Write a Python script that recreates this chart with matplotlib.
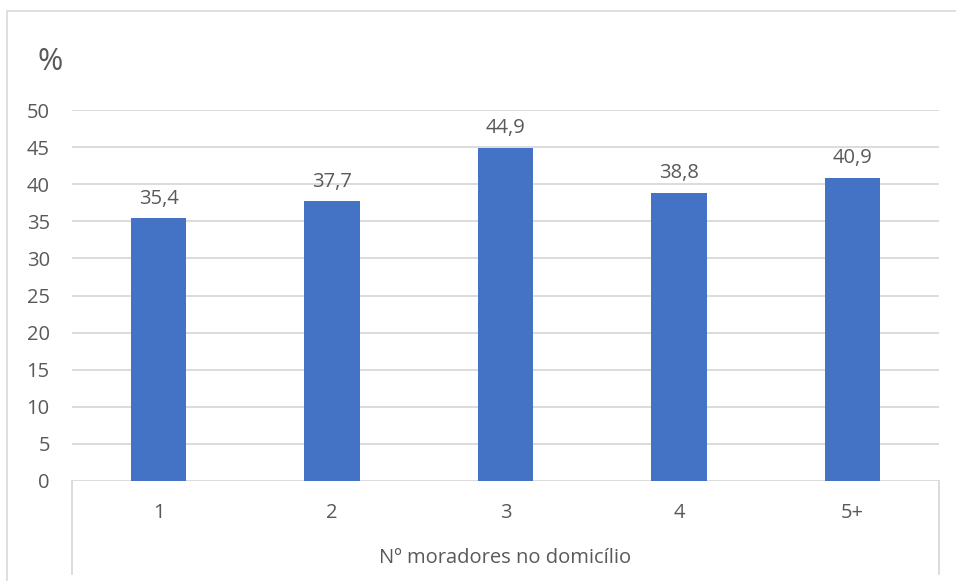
import matplotlib
matplotlib.use("Agg")
import matplotlib.pyplot as plt
from matplotlib.patches import Rectangle
from matplotlib.lines import Line2D

categories = ["1", "2", "3", "4", "5+"]
values = [35.4, 37.7, 44.9, 38.8, 40.9]
value_labels = ["35,4", "37,7", "44,9", "38,8", "40,9"]
yticks = [0, 5, 10, 15, 20, 25, 30, 35, 40, 45, 50]
x_title = "Nº moradores no domicílio"
y_title = "%"

W, H = 956, 581
text_col = "#595959"
grid_col = "#D9D9D9"
bar_col = "#4472C4"
fs = 14.5
plt.rcParams["font.family"] = ["Open Sans", "DejaVu Sans"]

fig = plt.figure(figsize=(W / 100, H / 100), dpi=100)

# outer chart frame, runs off the right and bottom edges
fig.patches.append(Rectangle((7 / W, -0.05), 1.0, (H - 11) / H + 0.05,
                             transform=fig.transFigure, fill=False,
                             edgecolor=grid_col, lw=1.2))

left, right, top, bottom = 72, 939, 110, 481
ax = fig.add_axes([left / W, (H - bottom) / H, (right - left) / W, (bottom - top) / H])

xs = range(len(categories))
ax.bar(xs, values, width=0.32, color=bar_col, zorder=3)
for x, v, lab in zip(xs, values, value_labels):
    ax.annotate(lab, (x, v), xytext=(0, 7), textcoords="offset points",
                ha="center", va="bottom", fontsize=fs, color=text_col)

ax.set_xlim(-0.5, len(categories) - 0.5)
ax.set_ylim(0, 50)
ax.set_yticks(yticks)
ax.set_yticklabels([str(t) for t in yticks])
ax.yaxis.grid(True, color=grid_col, lw=1.3, zorder=0)
ax.tick_params(axis="y", length=0, pad=16, labelsize=fs, labelcolor=text_col)
ax.set_xticks(list(xs))
ax.set_xticklabels(categories)
ax.tick_params(axis="x", length=0, pad=16, labelsize=fs, labelcolor=text_col)
for s in ax.spines.values():
    s.set_visible(False)

# category axis box lines below the plot
depth = (574 - bottom) / (bottom - top)
for xa in (0, 1):
    ax.add_line(Line2D([xa, xa], [0, -depth], transform=ax.transAxes,
                       color=grid_col, lw=1.3, clip_on=False))

ax.text(0.5, -(558 - bottom) / (bottom - top), x_title, transform=ax.transAxes,
        ha="center", va="center", fontsize=fs, color=text_col)
fig.text(50 / W, 1 - 62 / H, y_title, ha="center", va="center",
         fontsize=22, color=text_col)

fig.savefig("out.png", dpi=100, facecolor="white")
